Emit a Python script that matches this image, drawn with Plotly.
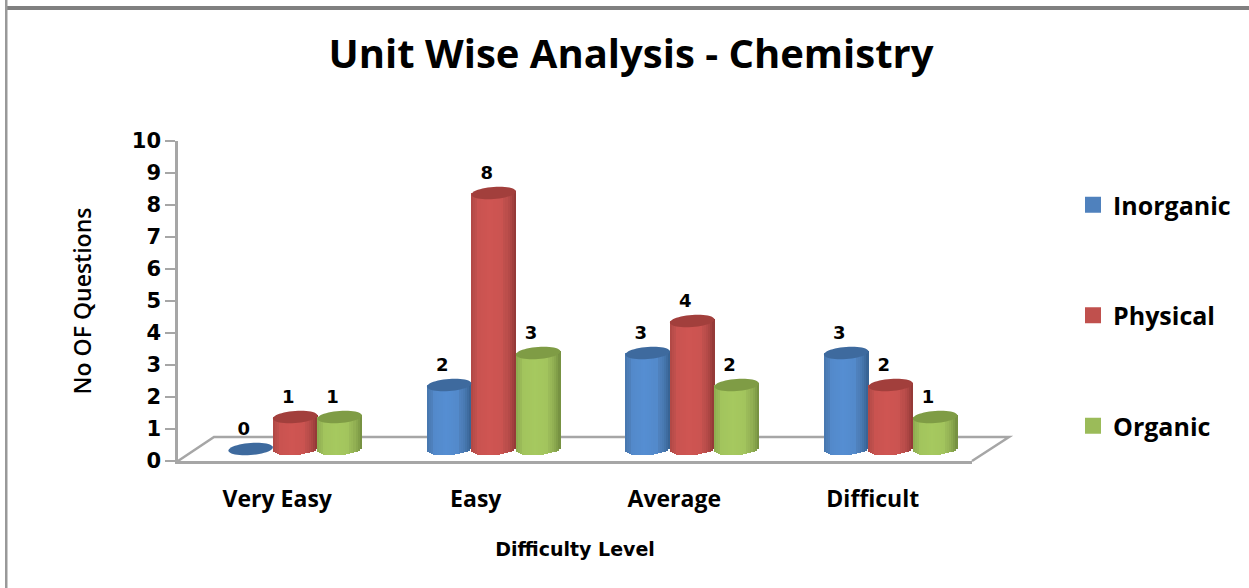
import math
import plotly.graph_objects as go

categories = ["Very Easy", "Easy", "Average", "Difficult"]
inorganic = [0, 2, 3, 3]
physical = [1, 8, 4, 2]
organic = [1, 3, 2, 1]
series_names = ["Inorganic", "Physical", "Organic"]
series_values = [inorganic, physical, organic]
base_colors = ["#4F81BD", "#C0504D", "#9BBB59"]
edge_colors = ["#35608F", "#8E3735", "#728C3E"]
light_colors = ["#558ED2", "#CF5552", "#A6C95F"]
cap_colors = ["#3E6A9E", "#A23F3C", "#7F9C45"]
y_ticks = list(range(11))

W, H = 1249, 588
L, R, T, B = 178, 972, 141, 461
FONT = "Open Sans"
DIGITS = "DejaVu Sans"
INK = "#000000"
GREY = "#A6A6A6"

BAR_W = 0.224
GROUP_SHIFT = 0.09
FLOOR = 0.375
CAP_H = 0.19
CAP_SHEAR = 0.05
N_STRIPS = 22
LABEL_LIFT = 0.94


def px(x):
    return (x - L) / (R - L)


def py(y):
    return (B - y) / (B - T)


def hex2rgb(c):
    return tuple(int(c[i:i + 2], 16) for i in (1, 3, 5))


def mix(a, b, t):
    ra, rb = hex2rgb(a), hex2rgb(b)
    return "rgb(%d,%d,%d)" % tuple(round(ra[i] + (rb[i] - ra[i]) * t) for i in range(3))


def shade(s, u):
    # u in [-1, 1]; lightest a little left of the centre, dark at both rims
    d = abs(u + 0.12) / 1.12
    if d < 0.55:
        return mix(light_colors[s], base_colors[s], d / 0.55 * 0.4)
    return mix(base_colors[s], edge_colors[s], ((d - 0.55) / 0.45) ** 1.5)


def centre(s):
    return GROUP_SHIFT + (s - 1) * BAR_W


fig = go.Figure()

for s, (name, vals) in enumerate(zip(series_names, series_values)):
    off = centre(s)
    fig.add_trace(go.Bar(
        name=name, x=list(range(len(categories))), y=vals,
        base=[FLOOR] * len(vals), width=BAR_W,
        offset=off - BAR_W / 2, marker=dict(color=base_colors[s], line_width=0),
        showlegend=False, hovertemplate=name + ": %{y}<extra></extra>",
    ))
    # cylinder shading: narrow strips whose ends follow the ellipses
    sx, sy, sb, sc = [], [], [], []
    sw = BAR_W / N_STRIPS
    for i, v in enumerate(vals):
        if v == 0:
            continue
        left = i + off - BAR_W / 2
        for k in range(N_STRIPS):
            u = -1 + (2 * k + 1) / N_STRIPS
            bottom = FLOOR + CAP_SHEAR * u - CAP_H * math.sqrt(1 - u * u)
            top = v + FLOOR + CAP_SHEAR * u
            sx.append(left + (k + 0.5) * sw)
            sb.append(bottom)
            sy.append(top - bottom)
            sc.append(shade(s, u))
    fig.add_trace(go.Bar(
        x=sx, y=sy, base=sb, width=sw * 1.25,
        marker=dict(color=sc, line_width=0),
        showlegend=False, hoverinfo="skip",
    ))

# Data labels, about one unit above each value
lx, ly, lt = [], [], []
for s, vals in enumerate(series_values):
    for i, v in enumerate(vals):
        lx.append(i + centre(s) - 0.035)
        ly.append(v + LABEL_LIFT)
        lt.append(str(v))
fig.add_trace(go.Scatter(
    x=lx, y=ly, text=lt, mode="text", textposition="middle center",
    textfont=dict(family=DIGITS, size=18, color=INK, weight=700),
    showlegend=False, hoverinfo="skip", cliponaxis=False,
))

# Legend entries: square swatches, their single point lies below the axis range
for s, name in enumerate(series_names):
    fig.add_trace(go.Scatter(
        name=name, x=[0], y=[-5], mode="markers", legendgroup=name,
        marker=dict(symbol="square", size=16, color=base_colors[s]),
        hoverinfo="skip",
    ))

shapes = []
# Floor of the 3D plot
shapes.append(dict(
    type="path", xref="paper", yref="paper", layer="below",
    path="M %f,%f L %f,%f L %f,%f L %f,%f" % (
        px(L), py(B), px(L + 36), py(B - 24), px(R + 37), py(B - 24), px(R), py(B)),
    line=dict(color=GREY, width=2.5),
))
# Ellipse tops of every cylinder
for s, vals in enumerate(series_values):
    for i, v in enumerate(vals):
        pts = []
        for a in range(48):
            t = 2 * math.pi * a / 48
            cu = math.cos(t)
            pts.append("%f,%f" % (
                i + centre(s) + BAR_W / 2 * cu,
                v + FLOOR + CAP_SHEAR * cu + CAP_H * math.sin(t)))
        shapes.append(dict(
            type="path", xref="x", yref="y", layer="above",
            path="M " + " L ".join(pts) + " Z",
            fillcolor=cap_colors[s], line=dict(width=0),
        ))
# Picture frame
shapes.append(dict(type="rect", xref="paper", yref="paper", layer="below",
                   x0=px(7), x1=px(W), y0=py(10), y1=py(6),
                   fillcolor="#808080", line_width=0))
shapes.append(dict(type="rect", xref="paper", yref="paper", layer="below",
                   x0=px(5), x1=px(7.5), y0=py(H), y1=py(0),
                   fillcolor="#999999", line_width=0))

fig.update_layout(
    width=W, height=H,
    margin=dict(l=L, r=W - R, t=T, b=H - B, pad=0),
    paper_bgcolor="#FFFFFF", plot_bgcolor="#FFFFFF",
    barmode="overlay", bargap=0,
    title=dict(text="Unit Wise Analysis - Chemistry",
               x=631 / W, xanchor="center", y=1 - 54 / H, yanchor="middle",
               font=dict(family=FONT, size=40, color=INK, weight=700)),
    legend=dict(x=px(1073), xanchor="left", y=py(182), yanchor="top",
                tracegroupgap=75, bgcolor="rgba(0,0,0,0)", borderwidth=0,
                itemwidth=30, itemclick=False, itemdoubleclick=False,
                font=dict(family=FONT, size=25, color=INK, weight=700)),
    xaxis=dict(range=[-0.5, 3.5], tickmode="array",
               tickvals=list(range(len(categories))), ticktext=categories,
               showgrid=False, zeroline=False, showline=True, linecolor=GREY, linewidth=2.5,
               ticks="", ticklabelstandoff=16,
               tickfont=dict(family=FONT, size=23, color=INK, weight=700),
               title=dict(text="Difficulty Level", standoff=30,
                          font=dict(family=DIGITS, size=19, color=INK, weight=700))),
    yaxis=dict(range=[0, 10], tickmode="array", tickvals=y_ticks,
               showgrid=False, zeroline=False, showline=True, linecolor=GREY, linewidth=2.5,
               ticks="outside", ticklen=10, tickwidth=2, tickcolor=GREY,
               tickfont=dict(family=DIGITS, size=21, color=INK, weight=700),
               title=dict(text="No OF Questions", standoff=34,
                          font=dict(family=FONT, size=23, color=INK, weight=600))),
    shapes=shapes,
    showlegend=True,
)

fig.write_html("out.html", config=dict(displayModeBar=False),
               post_script="document.body.style.margin='0';")
